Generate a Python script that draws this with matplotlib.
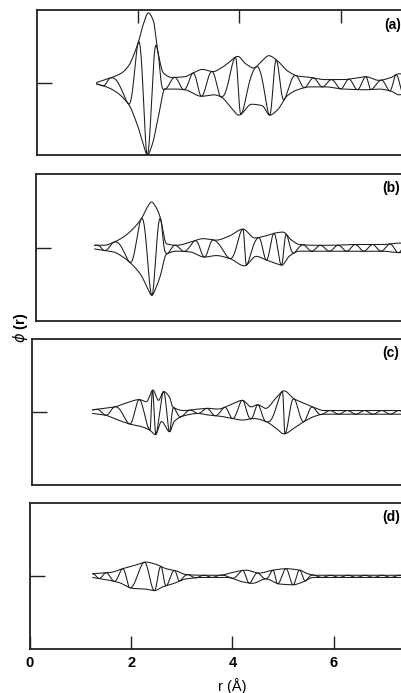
import numpy as np
import matplotlib
matplotlib.use("Agg")
import matplotlib.pyplot as plt

plt.rcParams['font.family'] = ['Liberation Sans', 'DejaVu Sans']

# ---------------- data ----------------
# panel (a)
a_r_up = [1.18,1.44,1.67,1.80,2.00,2.10,2.20,2.30,2.39,2.50,2.66,2.92,3.08,3.27,3.48,3.64,3.78,3.97,4.12,4.28,
          4.45,4.58,4.75,4.95,5.15,5.40,5.70,6.05,6.30,6.50,6.75,7.00,7.15,7.50]
a_up   = [0.00,0.06,0.13,0.22,0.55,0.80,0.96,0.85,0.42,0.13,0.07,0.08,0.13,0.18,0.15,0.20,0.27,0.36,0.26,0.20,
          0.30,0.37,0.30,0.16,0.09,0.07,0.04,0.04,0.06,0.08,0.03,0.07,0.12,0.06]
a_r_lo = [1.18,1.44,1.80,2.00,2.10,2.18,2.28,2.39,2.53,2.72,2.92,3.25,3.50,3.64,3.84,3.99,4.24,4.45,4.60,4.75,
          4.95,5.15,5.40,5.70,6.05,6.50,6.75,7.00,7.15,7.50]
a_lo   = [-0.02,-0.08,-0.29,-0.62,-0.85,-1.00,-0.85,-0.50,-0.09,-0.09,-0.10,-0.19,-0.17,-0.20,-0.35,-0.45,-0.30,-0.32,-0.45,-0.38,
          -0.18,-0.10,-0.06,-0.06,-0.09,-0.10,-0.09,-0.12,-0.17,-0.08]
a_ext  = [1.30,1.44,1.80,2.00,2.18,2.39,2.53,2.72,2.90,3.08,3.25,3.46,3.63,3.92,4.03,4.33,4.60,4.73,4.89,5.12,
          5.29,5.47,5.64,5.82,6.00,6.16,6.33,6.50,6.60,6.80,6.97,7.09,7.25,7.42,7.58]
a_first = 'lower'

# panel (b)
b_r_up = [1.16,1.35,1.53,1.70,1.85,2.08,2.20,2.28,2.37,2.45,2.58,2.78,3.04,3.30,3.56,3.83,4.09,4.32,4.55,4.75,
          4.88,5.05,5.21,5.54,5.87,6.20,6.53,6.85,7.18,7.50]
b_up   = [0.03,0.03,0.07,0.13,0.21,0.39,0.55,0.62,0.55,0.42,0.05,0.03,0.07,0.12,0.10,0.16,0.25,0.13,0.16,0.20,
          0.21,0.10,0.04,0.03,0.03,0.04,0.04,0.04,0.06,0.04]
b_r_lo = [1.16,1.35,1.53,1.70,1.85,2.08,2.20,2.29,2.37,2.45,2.58,2.78,3.04,3.33,3.56,3.83,4.12,4.35,4.55,4.75,
          4.86,5.00,5.21,5.54,5.87,6.20,6.53,6.85,7.18,7.50]
b_lo   = [-0.02,-0.04,-0.06,-0.12,-0.20,-0.38,-0.55,-0.65,-0.55,-0.40,-0.09,-0.05,-0.06,-0.13,-0.11,-0.15,-0.25,-0.12,-0.17,-0.22,
          -0.24,-0.12,-0.05,-0.05,-0.05,-0.05,-0.05,-0.05,-0.07,-0.05]
b_ext  = [1.22,1.35,1.53,1.85,2.08,2.29,2.47,2.60,2.75,2.92,3.14,3.33,3.50,3.83,4.09,4.16,4.40,4.55,4.70,4.85,
          4.95,5.10,5.28,5.45,5.62,5.80,5.97,6.14,6.31,6.48,6.65,6.82,6.99,7.16,7.33,7.50]
b_first = 'upper'

# panel (c)
c_r_up = [1.20,1.43,1.63,1.89,2.12,2.26,2.39,2.50,2.60,2.72,2.78,3.01,3.28,3.47,3.67,3.93,4.16,4.33,4.46,4.62,
          4.82,4.98,5.18,5.38,5.58,5.77,6.20,6.80,7.50]
c_up   = [0.03,0.05,0.07,0.13,0.17,0.14,0.30,0.16,0.28,0.20,0.07,0.02,0.04,0.05,0.04,0.10,0.16,0.07,0.10,0.05,
          0.19,0.29,0.18,0.12,0.06,0.02,0.02,0.02,0.02]
c_r_lo = [1.20,1.43,1.70,1.96,2.16,2.33,2.44,2.56,2.72,2.81,3.01,3.28,3.47,3.74,3.96,4.16,4.39,4.62,4.82,4.98,
          5.18,5.38,5.58,5.77,6.20,6.80,7.50]
c_lo   = [-0.02,-0.04,-0.11,-0.17,-0.20,-0.25,-0.31,-0.13,-0.27,-0.13,-0.05,-0.02,-0.04,-0.06,-0.09,-0.11,-0.09,-0.13,-0.22,-0.30,
          -0.22,-0.13,-0.06,-0.03,-0.03,-0.03,-0.03]
c_ext  = [1.28,1.45,1.63,1.93,2.12,2.33,2.38,2.45,2.60,2.72,2.80,2.95,3.12,3.28,3.45,3.62,3.80,3.96,4.16,4.33,
          4.46,4.62,4.95,5.00,5.18,5.38,5.55,5.72,5.89,6.06,6.23,6.40,6.57,6.74,6.91,7.08,7.25,7.42,7.59]
c_first = 'upper'

# panel (d)
d_r_up = [1.24,1.40,1.60,1.83,2.09,2.29,2.49,2.69,2.89,3.08,3.41,3.74,4.01,4.27,4.53,4.80,5.06,5.33,5.49,5.65,
          6.00,6.50,7.00,7.50]
d_up   = [0.03,0.04,0.05,0.10,0.15,0.19,0.16,0.10,0.07,0.02,0.01,0.01,0.05,0.08,0.04,0.08,0.10,0.08,0.03,0.01,
          0.01,0.01,0.01,0.01]
d_r_lo = [1.24,1.50,1.76,2.03,2.29,2.46,2.62,2.85,3.08,3.41,3.90,4.20,4.40,4.66,4.93,5.20,5.40,5.60,6.00,6.50,
          7.00,7.50]
d_lo   = [-0.02,-0.05,-0.09,-0.17,-0.18,-0.20,-0.15,-0.10,-0.04,-0.02,-0.02,-0.08,-0.10,-0.04,-0.11,-0.12,-0.08,-0.02,-0.02,-0.02,
          -0.02,-0.02]
d_ext  = [1.24,1.36,1.50,1.66,1.83,1.97,2.26,2.46,2.59,2.69,2.86,2.96,3.12,3.28,3.44,3.60,3.76,3.98,4.20,4.33,
          4.50,4.66,4.80,4.89,5.06,5.20,5.33,5.45,5.60,5.77,5.94,6.11,6.28,6.45,6.62,6.79,6.96,7.13,7.30,7.47]
d_first = 'upper'

panel_labels = ['(a)', '(b)', '(c)', '(d)']
x_tick_values = [0, 2, 4, 6]
x_tick_labels = ['0', '2', '4', '6']
x_label = 'r (Å)'
y_label = r'$\phi$ (r)'

# ---------------- helpers ----------------
def pchip(x, y, xn):
    x = np.asarray(x, float); y = np.asarray(y, float)
    h = np.diff(x); d = np.diff(y) / h
    m = np.zeros_like(y)
    for k in range(1, len(x) - 1):
        if d[k - 1] * d[k] > 0:
            w1 = 2 * h[k] + h[k - 1]; w2 = h[k] + 2 * h[k - 1]
            m[k] = (w1 + w2) / (w1 / d[k - 1] + w2 / d[k])
    m[0] = d[0]; m[-1] = d[-1]
    idx = np.clip(np.searchsorted(x, xn) - 1, 0, len(h) - 1)
    t = (xn - x[idx]) / h[idx]
    h00 = 2*t**3 - 3*t**2 + 1; h10 = t**3 - 2*t**2 + t
    h01 = -2*t**3 + 3*t**2;    h11 = t**3 - t**2
    return h00*y[idx] + h10*h[idx]*m[idx] + h01*y[idx+1] + h11*h[idx]*m[idx+1]

W, H = 401, 693
PX_PER_A = 50.6
# (left, top, bottom) in pixels for each panel
frames = [(37, 10, 155), (36, 174, 321), (32, 339, 485), (30, 503, 649)]
label_pos = [(384, 25), (382, 188), (382, 353), (382, 517)]

panels = [
    (a_r_up, a_up, a_r_lo, a_lo, a_ext, a_first),
    (b_r_up, b_up, b_r_lo, b_lo, b_ext, b_first),
    (c_r_up, c_up, c_r_lo, c_lo, c_ext, c_first),
    (d_r_up, d_up, d_r_lo, d_lo, d_ext, d_first),
]

fig = plt.figure(figsize=(W / 100, H / 100), dpi=100)
fig.patch.set_facecolor('white')
lc = '#1a1a1a'

for i, ((ru, up, rl, lo, ext, first), (L, T, B)) in enumerate(zip(panels, frames)):
    ax = fig.add_axes([L / W, 1 - B / H, 8 * PX_PER_A / W, (B - T) / H])
    r0 = max(ru[0], rl[0])
    r = np.linspace(r0, 7.5, 3000)
    u = pchip(ru, up, r)
    l = pchip(rl, lo, r)
    mid = (u + l) / 2
    half = (u - l) / 2
    phase = np.interp(r, ext, np.arange(len(ext)) * np.pi)
    s = 1.0 if first == 'upper' else -1.0
    osc = mid + s * half * np.cos(phase)
    ax.plot(r, u, color=lc, lw=0.75)
    ax.plot(r, l, color=lc, lw=0.75)
    ax.plot(r, osc, color=lc, lw=0.75)

    ax.set_xlim(0, 8)
    ax.set_ylim(-1, 1)
    for sp in ax.spines.values():
        sp.set_linewidth(1.3)
        sp.set_color('#222222')
    ax.set_yticks([0])
    ax.set_yticklabels([])
    ax.tick_params(axis='y', direction='in', length=11, width=1.0, color='#222222')
    if i == 0:
        ax.set_xticks([2, 4, 6])
        ax.tick_params(axis='x', top=True, bottom=False, labeltop=False, labelbottom=False,
                       direction='in', length=9.5, width=1.0, color='#222222')
    elif i == 3:
        ax.set_xticks(x_tick_values)
        ax.set_xticklabels(x_tick_labels, fontsize=10.5, fontweight='bold')
        ax.tick_params(axis='x', top=False, bottom=True, direction='in', length=9.5,
                       width=1.0, color='#222222', pad=5)
        ax.set_xlabel(x_label, fontsize=10.5, labelpad=6)
    else:
        ax.set_xticks([])
    lx, ly = label_pos[i]
    fig.text(lx / W, 1 - ly / H, panel_labels[i], fontsize=10, fontweight='bold',
             ha='left', va='center')

fig.text(21 / W, 1 - 328 / H, y_label, rotation=90, fontsize=10.5, fontweight='bold',
         ha='center', va='center')

fig.savefig('out.png', dpi=100, facecolor='white')
